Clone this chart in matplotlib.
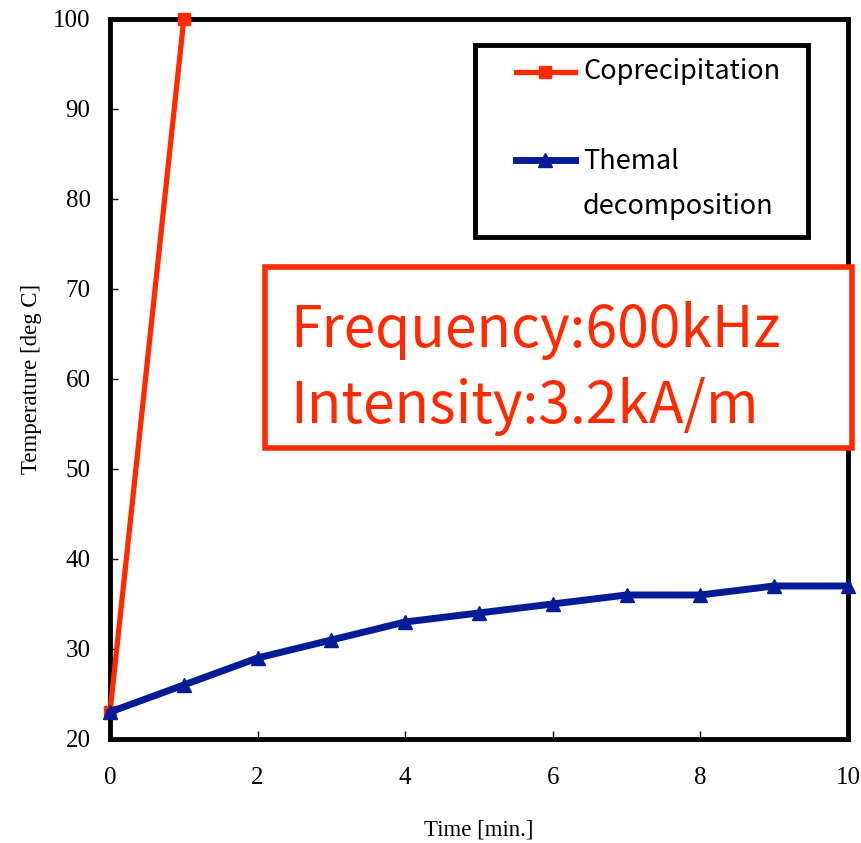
import matplotlib
matplotlib.use("Agg")
import matplotlib.pyplot as plt
from matplotlib.patches import Rectangle
from matplotlib.lines import Line2D

time_copre = [0, 1]
temp_copre = [23, 100]

time_thermal = [0, 1, 2, 3, 4, 5, 6, 7, 8, 9, 10]
temp_thermal = [23, 26, 29, 31, 33, 34, 35, 36, 36, 37, 37]

xticks = [0, 2, 4, 6, 8, 10]
yticks = [20, 30, 40, 50, 60, 70, 80, 90, 100]

red = "#ff2a00"
blue = "#061c96"
serif = ["Liberation Serif", "DejaVu Serif"]
sans = ["Noto Sans CJK JP", "DejaVu Sans"]

fig = plt.figure(figsize=(8.61, 8.43), dpi=100)
ax = fig.add_axes([0.1278, 0.1234, 0.857, 0.8541])

ax.plot(time_copre, temp_copre, color=red, lw=3.8, marker="s", ms=9,
        clip_on=False, zorder=3)
ax.plot(time_thermal, temp_thermal, color=blue, lw=5, marker="^", ms=10.5,
        clip_on=False, zorder=4)

ax.set_xlim(0, 10)
ax.set_ylim(20, 100)
ax.set_xticks(xticks)
ax.set_yticks(yticks)
for s in ax.spines.values():
    s.set_linewidth(3.5)
ax.tick_params(direction="in", length=6, width=1, labelsize=18)
ax.tick_params(axis="x", pad=20)
ax.tick_params(axis="y", pad=14)
for lab in ax.get_xticklabels() + ax.get_yticklabels():
    lab.set_family(serif)

ax.set_xlabel("Time [min.]", family=serif, fontsize=16.5, labelpad=22)
ax.set_ylabel("Temperature [deg C]", family=serif, fontsize=16.5, labelpad=8)

# legend box drawn by hand so the two-line label lines up like the original
tr = ax.transAxes
ax.add_patch(Rectangle((0.4946, 0.6972), 0.4512, 0.2667, transform=tr,
                       fc="white", ec="black", lw=3.5, zorder=5, clip_on=False))
ax.add_line(Line2D([0.5501, 0.6301], [0.9264, 0.9264], transform=tr,
                   color=red, lw=3.8, zorder=6))
ax.add_line(Line2D([0.589], [0.9264], transform=tr, color=red, marker="s",
                   ms=9, zorder=6))
ax.add_line(Line2D([0.5501, 0.6301], [0.8042, 0.8042], transform=tr,
                   color=blue, lw=5, zorder=6))
ax.add_line(Line2D([0.589], [0.8042], transform=tr, color=blue, marker="^",
                   ms=10.5, zorder=6))
ax.text(0.641, 0.9264, "Coprecipitation", transform=tr, family=sans,
        fontsize=19.5, va="center", ha="left", zorder=6)
ax.text(0.641, 0.8014, "Themal", transform=tr, family=sans,
        fontsize=19.5, va="center", ha="left", zorder=6)
ax.text(0.641, 0.7389, "decomposition", transform=tr, family=sans,
        fontsize=19.5, va="center", ha="left", zorder=6)

# condition box
ax.add_patch(Rectangle((0.210, 0.4042), 0.7954, 0.2514, transform=tr,
                       fc="white", ec=red, lw=4, zorder=5, clip_on=False))
ax.text(0.2439, 0.5444, "Frequency:600kHz", transform=tr, family=sans,
        fontsize=41, color=red, va="baseline", ha="left", zorder=6)
ax.text(0.2439, 0.4389, "Intensity:3.2kA/m", transform=tr, family=sans,
        fontsize=41, color=red, va="baseline", ha="left", zorder=6)

fig.savefig("out.png", dpi=100)
